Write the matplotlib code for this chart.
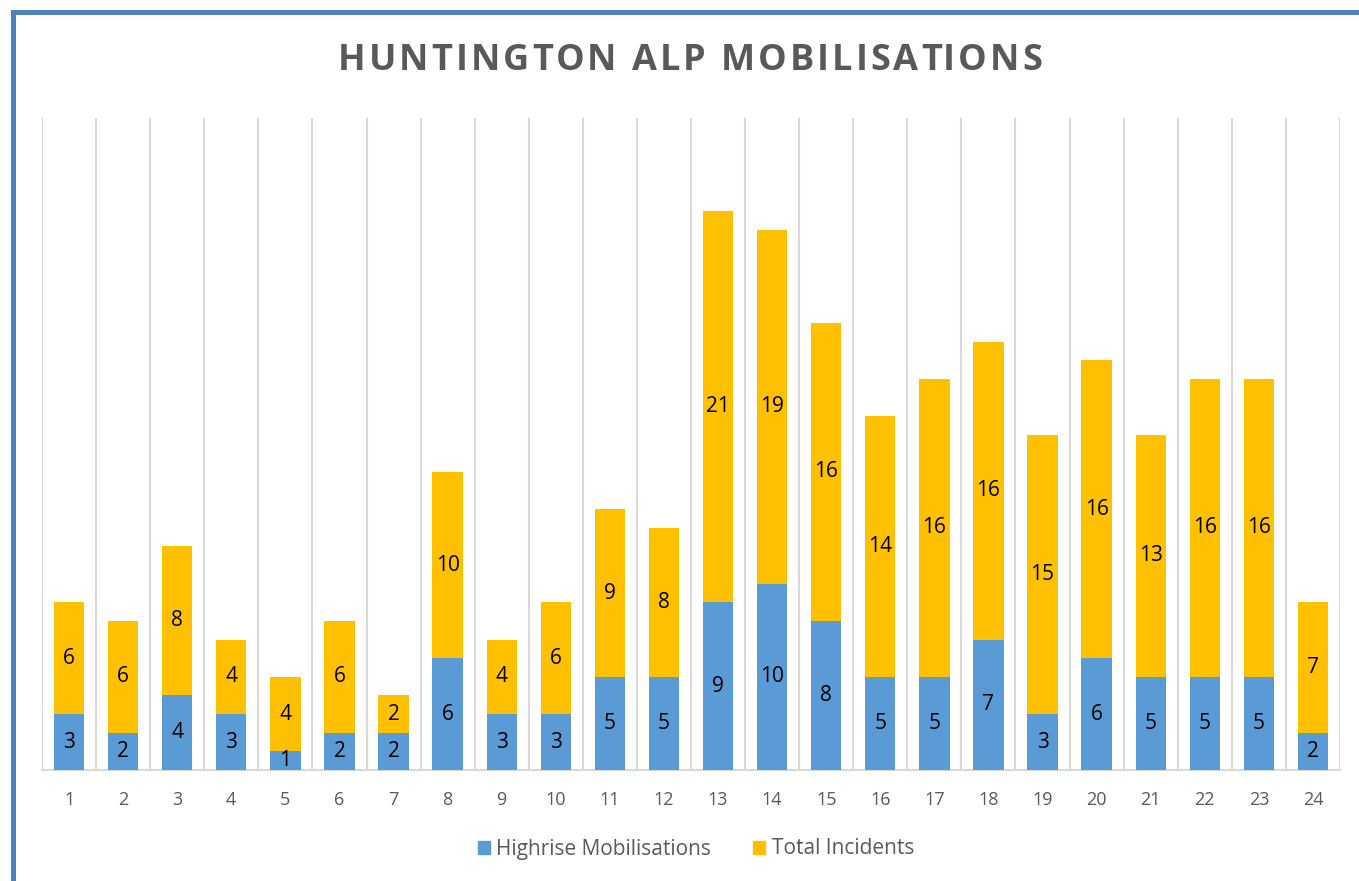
import numpy as np
import matplotlib.pyplot as plt
from matplotlib.patches import Rectangle

# ---- data ----
periods = [str(i) for i in range(1, 25)]
highrise = [3, 2, 4, 3, 1, 2, 2, 6, 3, 3, 5, 5, 9, 10, 8, 5, 5, 7, 3, 6, 5, 5, 5, 2]
total = [6, 6, 8, 4, 4, 6, 2, 10, 4, 6, 9, 8, 21, 19, 16, 14, 16, 16, 15, 16, 13, 16, 16, 7]
title = "HUNTINGTON ALP MOBILISATIONS"

BLUE = "#5B9BD5"
GOLD = "#FFC000"
GREY_TXT = "#595959"
GRID = "#D9D9D9"

plt.rcParams["font.family"] = ["Open Sans", "DejaVu Sans"]

fig = plt.figure(figsize=(13.59, 8.81), dpi=100)
ax = fig.add_axes([42 / 1359, 1 - 770 / 881, (1340 - 42) / 1359, (770 - 118) / 881])

x = np.arange(len(periods))
w = 0.56
ax.bar(x, highrise, width=w, color=BLUE, zorder=3)
ax.bar(x, total, width=w, bottom=highrise, color=GOLD, zorder=3)

for i in range(len(x)):
    ax.text(x[i], highrise[i] / 2, str(highrise[i]), ha="center", va="center",
            fontsize=15, color="black", zorder=4)
    ax.text(x[i], highrise[i] + total[i] / 2, str(total[i]), ha="center", va="center",
            fontsize=15, color="black", zorder=4)

ax.set_xlim(-0.5, len(x) - 0.5)
ax.set_ylim(0, 35)

# vertical gridlines between categories
for b in np.arange(-0.5, len(x), 1.0):
    ax.axvline(b, color=GRID, lw=1.5, zorder=1)

ax.set_xticks(x)
ax.set_xticklabels(periods, fontsize=13, color=GREY_TXT)
ax.tick_params(axis="x", length=0, pad=15)
ax.set_yticks([])
for s in ["top", "left", "right"]:
    ax.spines[s].set_visible(False)
ax.spines["bottom"].set_color(GRID)
ax.spines["bottom"].set_linewidth(1.5)
ax.spines["bottom"].set_zorder(2)

# title with letter spacing, placed char by char
renderer = fig.canvas.get_renderer()
spacing = 3.0  # px between letters
tprops = dict(fontsize=26, fontweight="bold", color=GREY_TXT)


def prefix_width(s):
    if not s:
        return 0.0
    t = fig.text(0, 0, s.replace(" ", "\u00a0"), **tprops)
    wd = t.get_window_extent(renderer).width
    t.remove()
    return wd


full_w = prefix_width(title) + spacing * (len(title) - 1)
x0 = 690 - full_w / 2
yc = 1 - 61 / 881
for i, ch in enumerate(title):
    if ch == " ":
        continue
    px = x0 + prefix_width(title[:i]) + spacing * i
    fig.text(px / 1359, yc, ch, ha="left", va="center", **tprops)

handles = [Rectangle((0, 0), 1, 1, color=BLUE), Rectangle((0, 0), 1, 1, color=GOLD)]
leg = fig.legend(handles, ["Highrise Mobilisations", "Total Incidents"], loc="center",
                 bbox_to_anchor=(0.512, 1 - 849 / 881), ncol=2, frameon=False,
                 fontsize=15, handlelength=0.6, handleheight=0.6, handletextpad=0.3,
                 columnspacing=2.0)
for t in leg.get_texts():
    t.set_color(GREY_TXT)

# blue frame around the chart (cut off on right and bottom)
fig.patches.append(Rectangle((12.5 / 1359, -0.1), 1.2, 1.1 - 12.5 / 881,
                             transform=fig.transFigure, fill=False,
                             edgecolor="#4F81BD", lw=3.6))

fig.savefig("out.png", dpi=100)
